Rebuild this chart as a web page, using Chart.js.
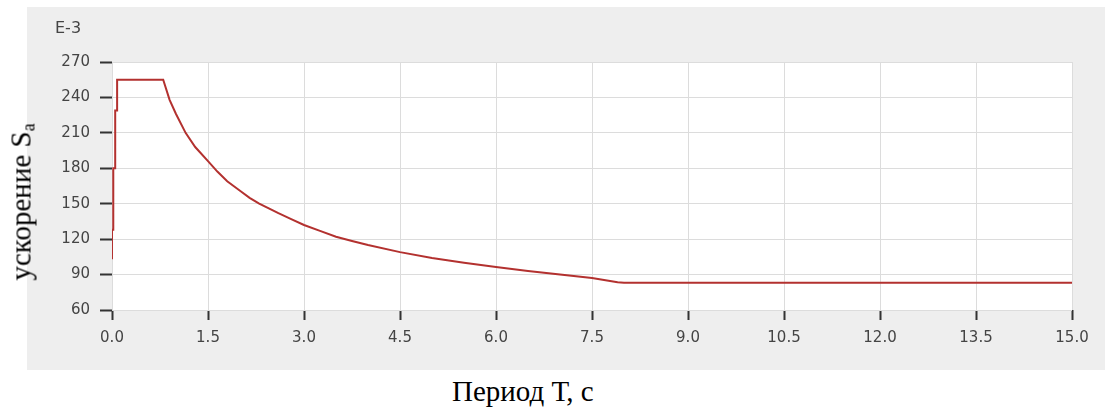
<!DOCTYPE html>
<html>
<head>
<meta charset="utf-8">
<script src="https://cdn.jsdelivr.net/npm/chart.js@4/dist/chart.umd.min.js"></script>
<style>
  html, body { margin: 0; padding: 0; background: #fff; width: 1105px; height: 410px; overflow: hidden; }
  #panel { position: absolute; left: 27px; top: 7px; width: 1078px; height: 363px; background: #eeeeee; }
  #panel canvas { position: absolute; left: 0; top: 0; }
  #exp { position: absolute; left: 55px; top: 18px; font: 16px "DejaVu Sans", sans-serif; color: #444; }
  #yTitle { position: absolute; left: 22px; top: 202px; transform: translate(-50%, -50%) rotate(-90deg);
            font: 29px "Liberation Serif", "Times New Roman", serif; color: #000; white-space: nowrap; }
  #yTitle sub { font-size: 18px; vertical-align: -4px; }
  #xTitle { position: absolute; left: 452px; top: 375px; font: 29px "Liberation Serif", "Times New Roman", serif; color: #000; white-space: nowrap; }
</style>
</head>
<body>
<div id="panel"><canvas id="spectrum" width="1078" height="363"></canvas></div>
<div id="exp">E-3</div>
<div id="yTitle">ускорение S<sub>a</sub></div>
<div id="xTitle">Период Т, с</div>
<script>
// period T, s  /  spectral acceleration Sa (x1E-3)
const periodT = [0, 0, 0.02, 0.02, 0.05, 0.05, 0.08, 0.08, 0.8, 0.9, 1.0, 1.15, 1.3, 1.5, 1.65, 1.8, 2.0, 2.15, 2.3,
                 2.45, 2.6, 2.8, 3.0, 3.25, 3.5, 3.75, 4.0, 4.5, 5.0, 5.5, 6.0, 6.5, 7.0, 7.5, 7.9, 8.0, 15.0];
const accelSa = [103, 128, 128, 180, 180, 229, 229, 255, 255, 238, 226, 210, 198, 186, 177, 169, 161, 155, 150,
                 146, 142, 137, 132, 127, 122, 118.5, 115, 109, 104, 100, 96.5, 93, 90, 87, 83.5, 83, 83];

const X_MIN = 0, X_MAX = 15, X_STEP = 1.5;
const Y_MIN = 60, Y_MAX = 270, Y_STEP = 30;

const points = periodT.map((t, i) => ({ x: t, y: accelSa[i] }));

const tickFont = { family: 'DejaVu Sans', size: 15 };

// white plot area behind the grid
const plotBg = {
  id: 'plotBg',
  beforeDraw(chart) {
    const { ctx, chartArea: a } = chart;
    ctx.save();
    ctx.fillStyle = '#ffffff';
    ctx.fillRect(a.left, a.top, a.right - a.left, a.bottom - a.top);
    ctx.restore();
  }
};

new Chart(document.getElementById('spectrum'), {
  type: 'line',
  data: {
    datasets: [{
      data: points,
      borderColor: '#b3312f',
      borderWidth: 2,
      pointRadius: 0,
      tension: 0,
      fill: false
    }]
  },
  options: {
    responsive: false,
    animation: false,
    layout: { padding: { top: 55, right: 33, left: 0, bottom: 0 } },
    plugins: { legend: { display: false }, tooltip: { enabled: false } },
    scales: {
      x: {
        type: 'linear',
        min: X_MIN, max: X_MAX,
        afterFit: s => { s.height = 60; },
        border: { display: false },
        grid: { color: '#dcdcdc', lineWidth: 1, tickColor: '#333', tickWidth: 2, tickLength: 10 },
        ticks: {
          stepSize: X_STEP,
          color: '#444',
          font: tickFont,
          padding: 9,
          maxRotation: 0,
          callback: v => Number(v).toFixed(1)
        }
      },
      y: {
        min: Y_MIN, max: Y_MAX,
        afterFit: s => { s.width = 85; },
        border: { display: false },
        grid: { color: '#dcdcdc', lineWidth: 1, tickColor: '#333', tickWidth: 2, tickLength: 12 },
        ticks: {
          stepSize: Y_STEP,
          color: '#444',
          font: tickFont,
          padding: 10
        }
      }
    }
  },
  plugins: [plotBg]
});
</script>
</body>
</html>
